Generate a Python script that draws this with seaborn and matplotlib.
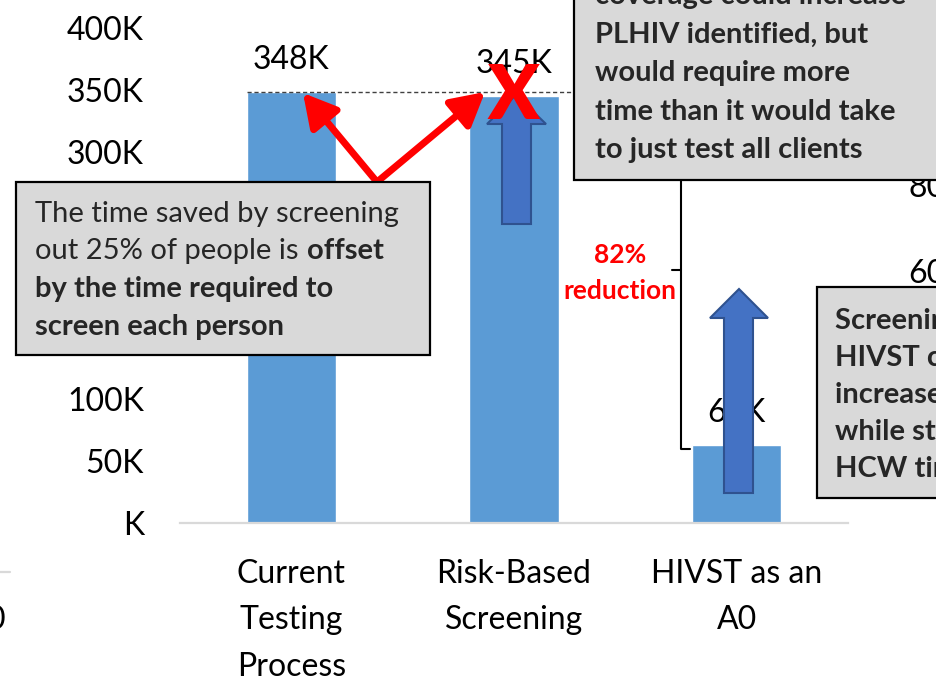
import matplotlib
matplotlib.use("Agg")
import matplotlib.pyplot as plt
import matplotlib.patches as mpatches
import matplotlib.transforms as mtrans
from matplotlib.lines import Line2D
import seaborn as sns
import pandas as pd

# ---- data ----
categories = ["Current\nTesting\nProcess", "Risk-Based\nScreening", "HIVST as an\nA0"]
hcw_time = [348000, 345000, 63000]
value_labels = ["348K", "345K", "63K"]
ytick_values = [0, 50000, 100000, 150000, 200000, 250000, 300000, 350000, 400000]
ytick_labels = ["K", "50K", "100K", "150K", "200K", "250K", "300K", "350K", "400K"]

W, H = 936, 679
sns.set_theme(style="white")
plt.rcParams['font.family'] = ['Lato', 'DejaVu Sans']

fig = plt.figure(figsize=(W / 100, H / 100), dpi=100)
fig.patch.set_facecolor("white")
ax = fig.add_axes([180 / W, 1 - 523 / H, (848 - 180) / W, (523 - 28) / H])
ax.set_facecolor("none")

df = pd.DataFrame({"cat": categories, "val": hcw_time})
sns.barplot(data=df, x="cat", y="val", color="#5B9BD5", width=0.4,
            saturation=1, ax=ax, zorder=2)
ax.set_xlim(-0.5, 2.5)
ax.set_ylim(0, 400000)
ax.set_yticks(ytick_values)
ax.set_yticklabels(ytick_labels, fontsize=23, color="black")
ax.set_xticks(range(len(categories)))
ax.set_xticklabels(categories, fontsize=23, color="black", linespacing=1.68)
ax.set_xlabel("")
ax.set_ylabel("")
ax.tick_params(axis="x", length=0, pad=26)
ax.tick_params(axis="y", length=0, pad=26)
for s in ["top", "right", "left"]:
    ax.spines[s].set_visible(False)
ax.spines["bottom"].set_color("#D9D9D9")
ax.spines["bottom"].set_linewidth(1.6)

# dashed reference line at first bar height
ax.hlines(hcw_time[0], -0.2, 1.6, colors="#404040", linestyles=(0, (3, 2)),
          lw=1, zorder=3)

# value labels
for i, (v, lab) in enumerate(zip(hcw_time, value_labels)):
    ax.annotate(lab, (i, v), xytext=(0, 23), textcoords="offset points",
                ha="center", va="center", fontsize=23, color="black", zorder=3)

# pixel transform (origin top-left)
px = mtrans.Affine2D().scale(1 / W, -1 / H).translate(0, 1) + fig.transFigure

# bracket
fig.add_artist(Line2D([690, 681, 681, 690], [92, 92, 449, 449], transform=px,
                      color="black", lw=1.5, zorder=2))
fig.add_artist(Line2D([672, 681], [270, 270], transform=px, color="black",
                      lw=1.5, zorder=2))
fig.text(620, 263, "82%", transform=px, ha="center", va="baseline",
         fontsize=19, fontweight="bold", color="#FF0000", zorder=3)
fig.text(620, 299, "reduction", transform=px, ha="center", va="baseline",
         fontsize=19, fontweight="bold", color="#FF0000", zorder=3)

# red arrows
for tip in [(303, 93), (485, 92)]:
    fig.add_artist(mpatches.FancyArrowPatch(
        (377, 182), tip, transform=px,
        arrowstyle="-|>,head_length=1.0,head_width=0.55", mutation_scale=20,
        lw=5, color="#FF0000", shrinkA=0, shrinkB=0, zorder=2))

# blue block arrows
arrow1 = [(502, 224), (502, 124), (487, 124), (516, 95), (546, 124), (531, 124), (531, 224)]
arrow2 = [(724, 493), (724, 318), (710, 318), (739, 289), (768, 318), (753, 318), (753, 493)]
for pts in [arrow1, arrow2]:
    fig.add_artist(mpatches.Polygon(pts, closed=True, transform=px,
                                    facecolor="#4472C4", edgecolor="#2F528F",
                                    lw=1.5, zorder=2.5))

# red X
fig.text(513, 97, "X", transform=px, ha="center", va="center", fontsize=54,
         fontweight="heavy", color="#FF0000", zorder=6)

# partial axes from neighbouring charts
fig.add_artist(Line2D([0, 10], [572, 572], transform=px, color="#D9D9D9", lw=1.6, zorder=1))
fig.text(6, 620, "0", transform=px, ha="right", va="center", fontsize=23, color="black", zorder=1)
fig.text(908, 197, "80", transform=px, ha="left", va="baseline", fontsize=23, color="black", zorder=1)
fig.text(908, 283, "60", transform=px, ha="left", va="baseline", fontsize=23, color="black", zorder=1)

# text boxes
def box(x0, y0, x1, y1):
    fig.add_artist(mpatches.Rectangle((x0, y1), x1 - x0, y0 - y1, transform=px,
                                      facecolor="#D9D9D9", edgecolor="black",
                                      lw=1.6, zorder=4))

box(16, 182, 430, 355)
box(574, -60, 1000, 180)
box(817, 287, 1000, 498)

BF = 21
fig.text(35, 222, "The time saved by screening", transform=px, ha="left",
         va="baseline", fontsize=BF, zorder=5)
fig.text(35, 259, "out 25% of people is", transform=px, ha="left",
         va="baseline", fontsize=BF, zorder=5)
fig.text(307, 259, "offset", transform=px, ha="left", va="baseline",
         fontsize=BF, fontweight="bold", zorder=5)
fig.text(35, 297, "by the time required to", transform=px, ha="left",
         va="baseline", fontsize=BF, fontweight="bold", zorder=5)
fig.text(35, 335, "screen each person", transform=px, ha="left",
         va="baseline", fontsize=BF, fontweight="bold", zorder=5)

top_lines = ["coverage could increase", "PLHIV identified, but",
             "would require more", "time than it would take",
             "to just test all clients"]
for k, t in enumerate(top_lines):
    fig.text(595, 4 + 38.5 * k, t, transform=px, ha="left", va="baseline",
             fontsize=BF, fontweight="bold", zorder=5)

right_lines = ["Screening for", "HIVST could", "increase yield",
               "while still saving", "HCW time"]
for k, t in enumerate(right_lines):
    fig.text(835, 329 + 37 * k, t, transform=px, ha="left", va="baseline",
             fontsize=BF, fontweight="bold", zorder=5)

fig.savefig("out.png", dpi=100)
